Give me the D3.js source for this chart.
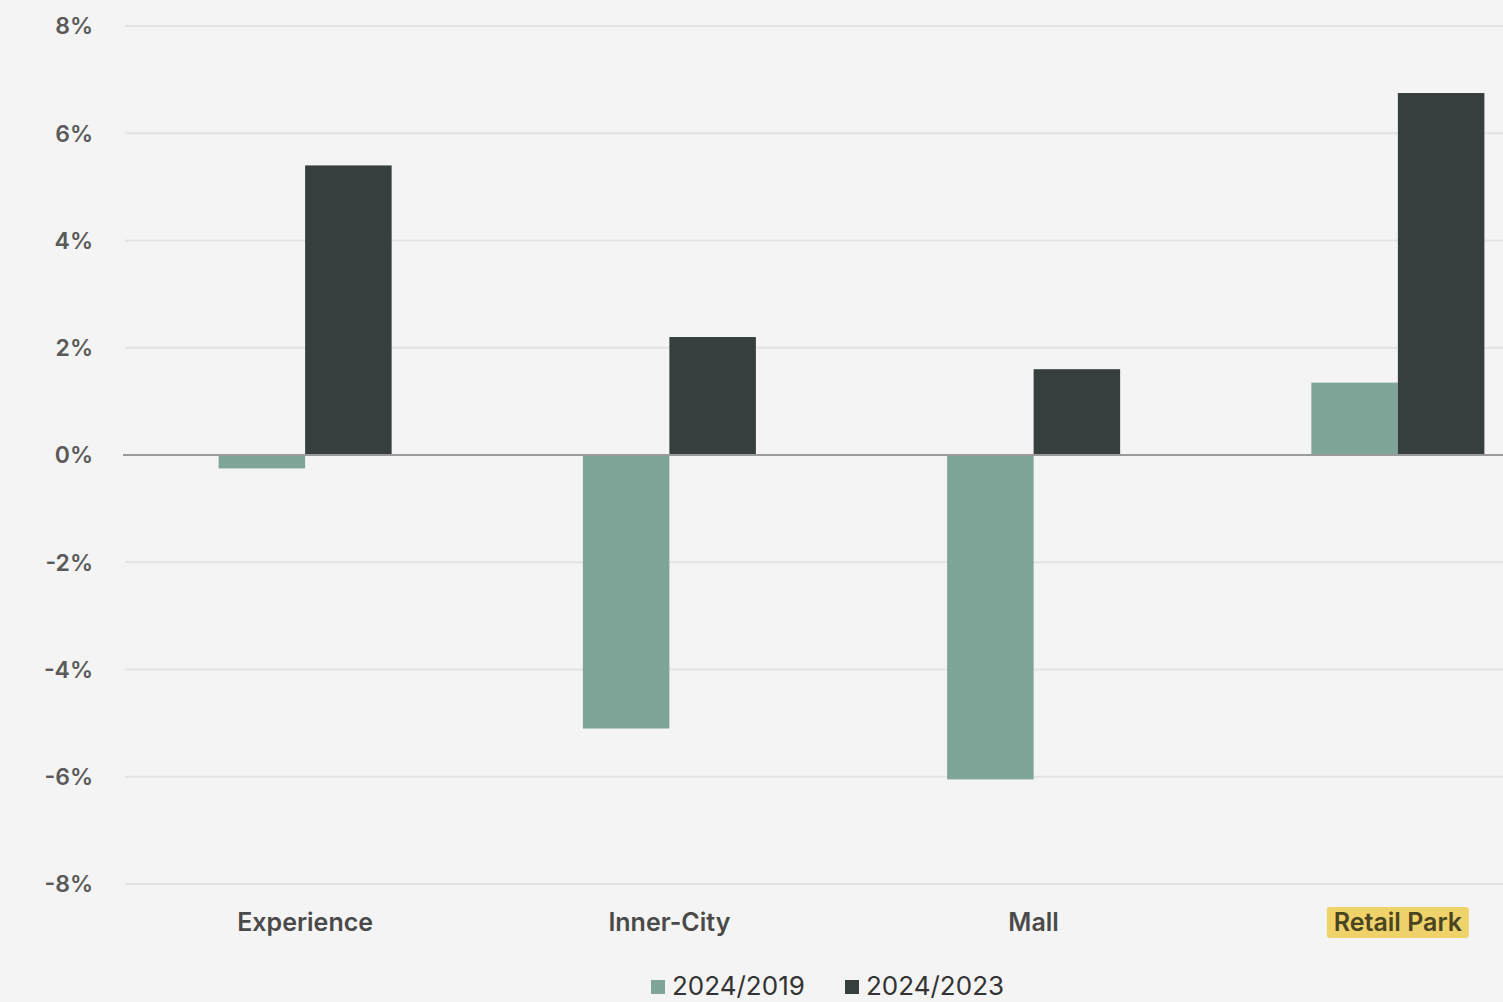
<!DOCTYPE html>
<html><head><meta charset="utf-8">
<script src="https://cdn.jsdelivr.net/npm/d3@7"></script>
<style>
html,body{margin:0;padding:0;background:#f4f4f4;overflow:hidden}
svg{display:block}
text{font-family:Inter,"Noto Sans",sans-serif}
</style></head><body>
<svg id="c" width="1503" height="1002"></svg>
<script>
const categories = ["Experience","Inner-City","Mall","Retail Park"];
const seriesNames = ["2024/2019","2024/2023"];
const v2019 = [-0.25, -5.1, -6.05, 1.35];
const v2023 = [5.4, 2.2, 1.6, 6.75];
const yTicks = [-8,-6,-4,-2,0,2,4,6,8];
const colors = ["#7fa598","#363e3e"];

const svg = d3.select("#c");
svg.append("rect").attr("width",1503).attr("height",1002).attr("fill","#f4f4f4");

const y = d3.scaleLinear().domain([-8,8]).range([884,26]);
const x = d3.scaleBand().domain(categories).range([123,1580]).paddingInner(0.525).paddingOuter(0.2625);
const xs = d3.scaleBand().domain(seriesNames).range([0,x.bandwidth()]);

// gridlines
svg.append("g").selectAll("line").data(yTicks.filter(d=>d!==0)).join("line")
  .attr("x1",125).attr("x2",1503).attr("y1",d=>y(d)).attr("y2",d=>y(d))
  .attr("stroke","#e3e3e3").attr("stroke-width",2);

// y tick labels
svg.append("g").selectAll("text").data(yTicks).join("text")
  .attr("x",93).attr("y",d=>y(d)).attr("dy","0.36em").attr("text-anchor","end")
  .attr("font-size",23).attr("font-weight",600).attr("fill","#5a5a5a")
  .text(d=>d+"%");

// bars
const data = categories.map((c,i)=>({c, vals:[v2019[i], v2023[i]]}));
const g = svg.append("g");
data.forEach(d=>{
  d.vals.forEach((v,j)=>{
    g.append("rect")
      .attr("x", x(d.c)+xs(seriesNames[j]))
      .attr("width", xs.bandwidth())
      .attr("y", y(Math.max(0,v)))
      .attr("height", Math.abs(y(v)-y(0)))
      .attr("fill", colors[j]);
  });
});

// zero line
svg.append("line").attr("x1",123).attr("x2",1503).attr("y1",y(0)).attr("y2",y(0))
  .attr("stroke","#9a9a9a").attr("stroke-width",2);

// category labels
const cg = svg.append("g");
categories.forEach(c=>{
  const cx = x(c)+x.bandwidth()/2;
  if(c==="Retail Park"){
    cg.append("rect").attr("x",cx-71).attr("y",907).attr("width",142).attr("height",31)
      .attr("rx",3).attr("fill","#efd26a");
  }
  cg.append("text").attr("x",cx).attr("y",922).attr("dy","0.36em").attr("text-anchor","middle")
    .attr("font-size",25).attr("font-weight",600)
    .attr("fill", c==="Retail Park" ? "#4a4520" : "#4a4a4a").text(c);
});

// legend
const lg = svg.append("g");
const lx = [651, 845];
seriesNames.forEach((s,i)=>{
  lg.append("rect").attr("x",lx[i]).attr("y",980).attr("width",14).attr("height",14).attr("fill",colors[i]);
  lg.append("text").attr("x",lx[i]+21).attr("y",986).attr("dy","0.36em")
    .attr("font-size",26).attr("fill","#333").text(s);
});
</script>
</body></html>
